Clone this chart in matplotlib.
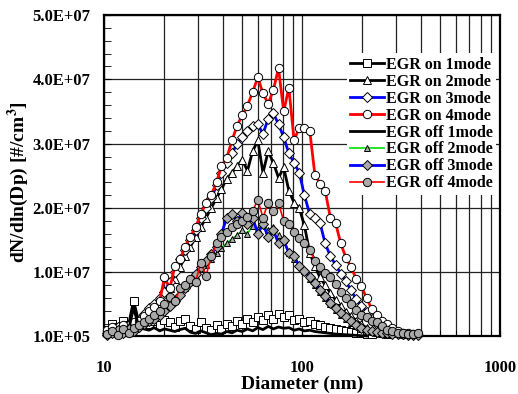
import numpy as np
import matplotlib.pyplot as plt
from matplotlib.ticker import FixedLocator, FixedFormatter, MultipleLocator, NullFormatter, FormatStrFormatter

# SMPS channel diameters (nm)
diameter = [10.4, 11.0, 11.7, 12.5, 13.3, 14.1, 15.0, 15.9, 16.9, 17.9,
            19.1, 20.2, 21.5, 22.8, 24.2, 25.7, 27.3, 29.0, 30.8, 32.8,
            34.8, 37.0, 39.2, 41.7, 44.3, 47.0, 49.9, 53.0, 56.3, 59.8,
            63.5, 67.5, 71.7, 76.1, 80.8, 85.8, 91.2, 96.8, 102.8, 109.4,
            116.1, 123.2, 130.9, 139.0, 147.7, 156.8, 166.5, 176.8, 187.8, 199.5,
            211.9, 225.0, 239.0, 253.8, 269.6, 286.3, 304.1, 322.9, 343.0, 364.2,
            386.9]

nan = np.nan
# dN/dln(Dp) in units of 1e6 #/cm3
on_1mode = [1.0, 2.0, 1.5, 2.5, 1.8, 5.6, 2.2, 2.8, 2.0, 2.5,
            1.8, 2.6, 2.2, 1.5, 2.4, 2.8, 1.6, 1.2, 2.2, 1.4,
            1.0, 1.8, 1.2, 2.0, 1.6, 2.4, 2.0, 2.8, 2.2, 3.0,
            2.6, 3.4, 2.8, 3.5, 3.0, 3.3, 2.6, 2.8, 2.3, 2.4,
            2.0, 1.8, 1.5, 1.4, 1.2, 1.0, 0.8, 0.7, 0.6, 0.5,
            0.45, 0.4, nan, nan, nan, nan, nan, nan, nan, nan,
            nan]
on_2mode = [0.8, 1.2, 0.6, 1.5, 1.0, 2.0, 2.4, 3.0, 3.8, 4.5,
            5.3, 6.2, 7.5, 9.0, 10.8, 12.5, 14.0, 15.5, 17.0, 18.5,
            20.0, 21.5, 23.0, 24.5, 25.5, 26.5, 27.5, 25.8, 28.8, 30.5,
            25.5, 28.8, 27.0, 24.7, 26.3, 22.7, 20.8, 20.0, 17.3, 13.0,
            11.0, 9.2, 8.0, 6.8, 5.7, 4.8, 3.9, 3.2, 2.5, 1.9,
            1.4, 1.0, 0.7, 0.5, 0.4, nan, nan, nan, nan, nan,
            nan]
on_3mode = [0.5, 1.0, 1.5, 0.8, 1.8, 2.0, 2.6, 3.5, 4.5, 5.0,
            6.0, 7.0, 8.5, 10.0, 12.0, 13.5, 15.0, 16.5, 18.5, 20.0,
            21.5, 23.5, 25.5, 27.0, 28.5, 30.0, 31.0, 32.0, 32.8, 33.0,
            31.5, 33.9, 34.7, 33.0, 31.0, 28.5, 27.0, 25.5, 22.0, 19.0,
            18.5, 17.7, 14.5, 12.5, 11.2, 9.8, 8.6, 7.2, 5.8, 4.8,
            3.8, 2.8, 2.0, 1.5, 1.0, 0.7, 0.5, 0.4, nan, nan,
            nan]
on_4mode = [1.0, 1.5, 0.8, 1.8, 1.2, 2.2, 2.5, 3.2, 4.0, 4.6,
            5.5, 9.2, 7.5, 11.0, 12.0, 14.0, 15.5, 17.0, 19.0, 20.8,
            22.0, 24.0, 26.5, 27.8, 30.5, 32.8, 34.4, 35.9, 38.0, 40.3,
            37.8, 36.2, 38.4, 41.7, 35.0, 38.7, 30.5, 32.5, 32.5, 32.0,
            25.2, 23.8, 22.7, 18.5, 17.7, 14.5, 12.3, 10.8, 9.0, 7.8,
            6.0, 4.3, 3.3, 2.5, 2.0, 1.3, 0.8, 0.6, 0.5, 0.4,
            nan]
off_1mode = [0.5, 1.0, 0.8, 1.2, 1.0, 4.5, 1.5, 1.2, 1.0, 1.4,
             0.9, 1.2, 1.0, 0.8, 1.1, 1.3, 0.7, 0.5, 0.9, 0.6,
             0.3, 0.5, 0.4, 0.8, 0.6, 1.0, 0.8, 1.2, 0.9, 1.4,
             1.1, 1.6, 1.2, 1.5, 1.3, 1.4, 1.0, 1.2, 0.9, 1.0,
             0.8, 0.7, 0.6, 0.5, 0.4, 0.35, 0.3, 0.25, 0.2, 0.15,
             0.1, nan, nan, nan, nan, nan, nan, nan, nan, nan,
             nan]
off_2mode = [0.5, 0.8, 1.2, 0.7, 1.5, 1.0, 1.8, 2.2, 2.6, 3.0,
             3.6, 4.2, 5.0, 5.8, 6.8, 7.5, 8.5, 9.5, 10.5, 11.2,
             12.0, 13.0, 13.8, 14.5, 15.2, 15.8, 16.5, 16.0, 17.2, 16.8,
             17.5, 16.5, 17.0, 15.8, 15.0, 13.0, 12.0, 11.2, 10.2, 9.0,
             8.0, 7.0, 6.0, 5.0, 4.2, 3.4, 2.7, 2.1, 1.6, 1.2,
             0.9, 0.7, 0.6, 0.5, 0.45, 0.4, 0.35, 0.3, 0.3, 0.3,
             nan]
off_3mode = [0.3, 0.6, 1.0, 0.5, 1.2, 0.8, 1.5, 2.0, 2.4, 2.8,
             3.3, 4.0, 4.8, 5.5, 6.5, 7.5, 8.5, 9.8, 10.8, 11.8,
             12.8, 14.0, 16.0, 18.5, 19.0, 18.0, 19.2, 17.5, 18.5, 16.0,
             17.5, 15.5, 16.5, 14.5, 15.0, 13.0, 12.5, 11.0, 10.2, 9.3,
             8.3, 7.3, 6.3, 5.3, 4.5, 3.7, 3.0, 2.4, 1.8, 1.4,
             1.0, 0.8, 0.7, 0.6, 0.5, 0.45, 0.4, 0.35, 0.3, 0.3,
             0.3]
off_4mode = [0.4, 0.8, 0.3, 1.2, 0.6, 1.3, 1.8, 2.2, 2.8, 3.3,
             4.0, 5.0, 6.2, 5.5, 7.5, 8.0, 9.0, 8.5, 11.5, 9.5,
             12.5, 14.5, 15.5, 16.2, 17.0, 17.5, 18.0, 18.6, 19.5, 21.3,
             18.5, 20.8, 19.5, 20.7, 18.0, 17.5, 16.2, 15.4, 14.5, 13.4,
             11.8, 10.8, 9.9, 9.2, 8.2, 7.0, 6.0, 5.0, 4.2, 3.3,
             3.0, 2.5, 2.2, 1.6, 1.1, 0.8, 0.6, 0.5, 0.4, 0.4,
             0.5]

labels = ["EGR on 1mode", "EGR on 2mode", "EGR on 3mode", "EGR on 4mode",
          "EGR off 1mode", "EGR off 2mode", "EGR off 3mode", "EGR off 4mode"]
series = [on_1mode, on_2mode, on_3mode, on_4mode,
          off_1mode, off_2mode, off_3mode, off_4mode]

gray = "#a9a9a9"
styles = [
    dict(color="black", lw=2.0, marker="s", mfc="white", ms=5.5),
    dict(color="black", lw=2.0, marker="^", mfc="white", ms=6),
    dict(color="blue", lw=2.0, marker="D", mfc="white", ms=5),
    dict(color="red", lw=2.0, marker="o", mfc="white", ms=6),
    dict(color="black", lw=2.0, marker=None),
    dict(color="#00e000", lw=1.2, marker="^", mfc=gray, ms=4.5),
    dict(color="blue", lw=2.0, marker="D", mfc=gray, ms=5),
    dict(color="red", lw=1.2, marker="o", mfc=gray, ms=6),
]

plt.rcParams["font.family"] = ["Liberation Serif", "DejaVu Serif"]
plt.rcParams["font.weight"] = "bold"
plt.rcParams["mathtext.fontset"] = "stix"

fig = plt.figure(figsize=(5.18, 3.94), dpi=100)
ax = fig.add_axes([0.2008, 0.1472, 0.7645, 0.8148])

d = np.array(diameter)
for vals, lab, st in zip(series, labels, styles):
    y = np.array(vals) * 1e6
    ax.plot(d, y, label=lab, mec="black", mew=0.7, clip_on=False, zorder=3, **st)

ax.set_xscale("log")
ax.set_xlim(10, 1000)
ax.set_ylim(1e5, 5e7)

ax.xaxis.set_major_locator(FixedLocator([10, 100, 1000]))
ax.xaxis.set_major_formatter(FixedFormatter(["10", "100", "1000"]))
ax.xaxis.set_minor_formatter(NullFormatter())
ax.set_yticks([1e5, 1e7, 2e7, 3e7, 4e7, 5e7])
ax.yaxis.set_major_formatter(FormatStrFormatter("%.1E"))
ax.yaxis.set_minor_locator(MultipleLocator(2e6))

ax.tick_params(axis="both", which="both", direction="in", labelsize=12)
ax.tick_params(axis="x", which="both", pad=17, length=4)
ax.tick_params(axis="y", which="major", pad=10, length=5)
ax.tick_params(axis="y", which="minor", length=5)

ax.grid(True, axis="x", which="both", color="#222222", lw=0.9)
ax.grid(True, axis="y", which="major", color="#222222", lw=0.9)
ax.set_axisbelow(True)
for sp in ax.spines.values():
    sp.set_linewidth(1.6)

ax.set_xlabel("Diameter (nm)", fontsize=14, fontweight="bold")
ax.set_ylabel(r"dN/dln(Dp) [#/cm$^\mathbf{3}$]", fontsize=14, fontweight="bold")
ax.xaxis.set_label_coords(0.5, -0.125)
ax.yaxis.set_label_coords(-0.185, 0.48)

leg = ax.legend(loc="upper right", bbox_to_anchor=(0.99, 0.88), numpoints=1,
                fontsize=11.5, handlelength=2.1, handletextpad=0.15,
                labelspacing=0.06, borderpad=0.2, borderaxespad=0.0,
                frameon=True, fancybox=False, framealpha=1.0)
leg.get_frame().set_edgecolor("none")
leg.get_frame().set_facecolor("white")
leg.set_zorder(5)

fig.savefig("out.png", dpi=100)
